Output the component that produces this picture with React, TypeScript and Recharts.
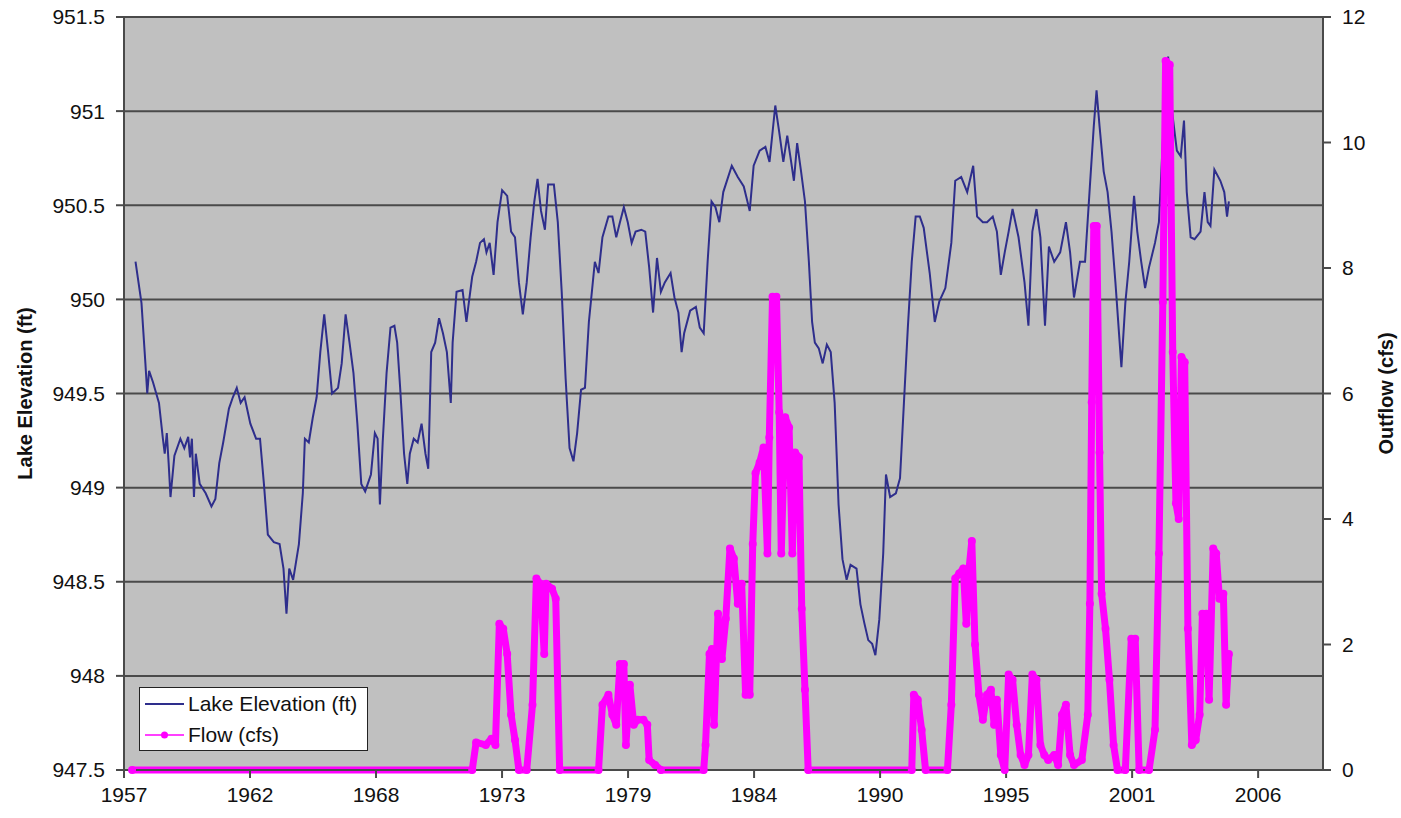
import { CartesianGrid, Legend, Line, LineChart, XAxis, YAxis } from "recharts";

// readings: [decimal year, value]
const LAKE_ELEVATION: [number, number][] = [
	[1958.0, 950.2], [1958.26, 949.98], [1958.43, 949.66], [1958.51, 949.5], [1958.59, 949.62], [1958.76, 949.56],
	[1959.02, 949.45], [1959.19, 949.26], [1959.27, 949.18], [1959.36, 949.29], [1959.44, 949.13], [1959.52, 948.95],
	[1959.69, 949.17], [1959.95, 949.26], [1960.12, 949.21], [1960.29, 949.27], [1960.37, 949.16], [1960.45, 949.26],
	[1960.54, 948.95], [1960.62, 949.18], [1960.79, 949.02], [1961.05, 948.97], [1961.3, 948.9], [1961.47, 948.94],
	[1961.64, 949.13], [1961.81, 949.24], [1962.06, 949.42], [1962.23, 949.48], [1962.4, 949.53], [1962.57, 949.45],
	[1962.74, 949.48], [1962.99, 949.34], [1963.24, 949.26], [1963.41, 949.26], [1963.58, 949.02], [1963.75, 948.75],
	[1964.01, 948.71], [1964.26, 948.7], [1964.43, 948.57], [1964.56, 948.33], [1964.68, 948.57], [1964.85, 948.51],
	[1965.1, 948.7], [1965.27, 948.97], [1965.36, 949.26], [1965.53, 949.24], [1965.7, 949.37], [1965.87, 949.48],
	[1966.03, 949.72], [1966.2, 949.92], [1966.37, 949.72], [1966.54, 949.5], [1966.8, 949.53], [1966.96, 949.66],
	[1967.13, 949.92], [1967.3, 949.77], [1967.47, 949.61], [1967.64, 949.34], [1967.81, 949.02], [1967.98, 948.98],
	[1968.23, 949.07], [1968.4, 949.29], [1968.52, 949.26], [1968.62, 948.91], [1968.74, 949.24], [1968.91, 949.61],
	[1969.08, 949.85], [1969.25, 949.86], [1969.37, 949.77], [1969.5, 949.53], [1969.67, 949.18], [1969.81, 949.02],
	[1969.92, 949.18], [1970.09, 949.26], [1970.26, 949.24], [1970.43, 949.34], [1970.6, 949.18], [1970.72, 949.1],
	[1970.85, 949.72], [1971.02, 949.77], [1971.19, 949.9], [1971.36, 949.82], [1971.53, 949.72], [1971.7, 949.45],
	[1971.78, 949.77], [1971.95, 950.04], [1972.21, 950.05], [1972.38, 949.88], [1972.46, 949.96], [1972.63, 950.12],
	[1972.8, 950.2], [1972.97, 950.3], [1973.14, 950.32], [1973.25, 950.25], [1973.39, 950.3], [1973.56, 950.13],
	[1973.73, 950.41], [1973.93, 950.58], [1974.15, 950.55], [1974.32, 950.36], [1974.49, 950.33], [1974.66, 950.09],
	[1974.83, 949.92], [1975.0, 950.09], [1975.17, 950.33], [1975.33, 950.52], [1975.47, 950.64], [1975.62, 950.47],
	[1975.79, 950.37], [1975.93, 950.61], [1976.18, 950.61], [1976.35, 950.41], [1976.52, 950.04], [1976.69, 949.58],
	[1976.86, 949.21], [1977.03, 949.14], [1977.19, 949.29], [1977.36, 949.52], [1977.53, 949.53], [1977.7, 949.88],
	[1977.96, 950.2], [1978.12, 950.14], [1978.29, 950.33], [1978.55, 950.44], [1978.72, 950.44], [1978.89, 950.33],
	[1979.05, 950.41], [1979.22, 950.49], [1979.39, 950.41], [1979.56, 950.3], [1979.73, 950.36], [1979.98, 950.37],
	[1980.15, 950.36], [1980.32, 950.17], [1980.49, 949.93], [1980.66, 950.22], [1980.83, 950.04], [1981.0, 950.09],
	[1981.25, 950.14], [1981.42, 950.01], [1981.59, 949.93], [1981.73, 949.72], [1981.84, 949.82], [1982.1, 949.94],
	[1982.35, 949.96], [1982.52, 949.85], [1982.69, 949.82], [1982.86, 950.2], [1983.03, 950.52], [1983.2, 950.49],
	[1983.37, 950.41], [1983.54, 950.57], [1983.91, 950.71], [1984.17, 950.65], [1984.43, 950.6], [1984.69, 950.47],
	[1984.86, 950.71], [1985.12, 950.79], [1985.37, 950.81], [1985.55, 950.73], [1985.8, 951.03], [1985.97, 950.89],
	[1986.15, 950.73], [1986.32, 950.87], [1986.49, 950.73], [1986.61, 950.63], [1986.75, 950.83], [1986.92, 950.68],
	[1987.09, 950.52], [1987.26, 950.2], [1987.4, 949.88], [1987.52, 949.77], [1987.69, 949.74], [1987.86, 949.66],
	[1988.04, 949.76], [1988.21, 949.72], [1988.38, 949.45], [1988.55, 948.91], [1988.72, 948.62], [1988.9, 948.51],
	[1989.07, 948.59], [1989.33, 948.57], [1989.5, 948.38], [1989.67, 948.28], [1989.84, 948.19], [1990.01, 948.17],
	[1990.15, 948.11], [1990.32, 948.3], [1990.49, 948.65], [1990.61, 949.07], [1990.79, 948.95], [1991.04, 948.97],
	[1991.22, 949.05], [1991.39, 949.45], [1991.56, 949.85], [1991.73, 950.2], [1991.9, 950.44], [1992.08, 950.44],
	[1992.25, 950.38], [1992.51, 950.14], [1992.73, 949.88], [1992.93, 949.99], [1993.19, 950.06], [1993.45, 950.3],
	[1993.62, 950.63], [1993.88, 950.65], [1994.14, 950.57], [1994.4, 950.71], [1994.57, 950.44], [1994.82, 950.41],
	[1995.0, 950.41], [1995.25, 950.44], [1995.43, 950.36], [1995.6, 950.13], [1995.77, 950.25], [1995.94, 950.36],
	[1996.11, 950.48], [1996.37, 950.33], [1996.63, 950.09], [1996.8, 949.86], [1996.97, 950.36], [1997.15, 950.48],
	[1997.32, 950.33], [1997.52, 949.86], [1997.69, 950.28], [1997.92, 950.2], [1998.18, 950.25], [1998.43, 950.41],
	[1998.61, 950.25], [1998.78, 950.01], [1999.04, 950.2], [1999.26, 950.2], [1999.47, 950.6], [1999.64, 950.92],
	[1999.76, 951.11], [1999.89, 950.92], [2000.07, 950.68], [2000.24, 950.57], [2000.41, 950.36], [2000.58, 950.09],
	[2000.84, 949.64], [2001.01, 949.98], [2001.18, 950.2], [2001.39, 950.55], [2001.53, 950.36], [2001.7, 950.2],
	[2001.87, 950.06], [2002.04, 950.17], [2002.3, 950.3], [2002.47, 950.41], [2002.64, 950.84], [2002.87, 951.29],
	[2003.04, 951.0], [2003.25, 950.79], [2003.42, 950.76], [2003.56, 950.95], [2003.68, 950.57], [2003.85, 950.33],
	[2004.02, 950.32], [2004.28, 950.36], [2004.45, 950.57], [2004.59, 950.41], [2004.71, 950.39], [2004.88, 950.69],
	[2005.14, 950.63], [2005.31, 950.57], [2005.43, 950.44], [2005.51, 950.52],
];

const FLOW: [number, number][] = [
	[1957.85, 0], [1972.63, 0], [1972.8, 0.44], [1973.22, 0.4], [1973.47, 0.5], [1973.64, 0.4], [1973.81, 2.33],
	[1973.98, 2.25], [1974.15, 1.85], [1974.32, 0.88], [1974.49, 0.48], [1974.66, 0], [1975.0, 0], [1975.25, 1.04],
	[1975.42, 3.05], [1975.59, 2.97], [1975.76, 1.85], [1975.84, 2.97], [1976.1, 2.89], [1976.26, 2.73], [1976.43, 0],
	[1978.12, 0], [1978.29, 1.04], [1978.55, 1.2], [1978.72, 0.88], [1978.89, 0.72], [1979.05, 1.69], [1979.22, 1.69],
	[1979.31, 0.4], [1979.48, 1.36], [1979.65, 0.72], [1979.82, 0.8], [1980.07, 0.8], [1980.24, 0.72], [1980.32, 0.16],
	[1980.58, 0.08], [1980.83, 0], [1982.69, 0], [1982.77, 0.4], [1982.94, 1.85], [1983.05, 1.93], [1983.14, 0.72],
	[1983.31, 2.49], [1983.48, 1.77], [1983.65, 2.41], [1983.83, 3.53], [1984.0, 3.37], [1984.17, 2.65], [1984.34, 2.97],
	[1984.51, 1.2], [1984.69, 1.2], [1984.82, 3.6], [1984.94, 4.73], [1985.12, 4.9], [1985.29, 5.14], [1985.46, 3.45],
	[1985.54, 5.3], [1985.68, 7.54], [1985.85, 7.54], [1985.97, 5.7], [1986.06, 3.45], [1986.23, 5.62], [1986.4, 5.46],
	[1986.54, 3.45], [1986.66, 5.06], [1986.83, 4.98], [1986.95, 2.57], [1987.09, 1.28], [1987.23, 0], [1991.73, 0],
	[1991.82, 1.2], [1991.99, 1.12], [1992.16, 0.64], [1992.33, 0], [1993.28, 0], [1993.45, 1.04], [1993.62, 3.05],
	[1993.79, 3.13], [1993.97, 3.21], [1994.1, 2.33], [1994.22, 3.21], [1994.34, 3.65], [1994.48, 2.0], [1994.65, 1.2],
	[1994.82, 0.8], [1995.0, 1.2], [1995.17, 1.28], [1995.31, 0.72], [1995.43, 1.12], [1995.6, 0.24], [1995.77, 0],
	[1995.94, 1.52], [1996.11, 1.44], [1996.29, 0.72], [1996.46, 0.24], [1996.63, 0.08], [1996.8, 0.24], [1996.97, 1.52],
	[1997.15, 1.44], [1997.32, 0.4], [1997.49, 0.24], [1997.66, 0.16], [1997.92, 0.24], [1998.09, 0.08], [1998.26, 0.88],
	[1998.43, 1.04], [1998.61, 0.24], [1998.78, 0.08], [1999.12, 0.16], [1999.38, 0.88], [1999.47, 2.65], [1999.55, 5.86],
	[1999.64, 8.67], [1999.77, 8.67], [1999.89, 5.06], [1999.98, 2.81], [2000.15, 2.25], [2000.32, 1.44], [2000.5, 0.4],
	[2000.67, 0], [2001.01, 0], [2001.27, 2.09], [2001.44, 2.09], [2001.61, 0], [2002.04, 0], [2002.3, 0.64],
	[2002.47, 3.45], [2002.64, 7.46], [2002.76, 11.3], [2002.94, 11.24], [2003.07, 6.66], [2003.21, 4.25], [2003.33, 4.0],
	[2003.45, 6.58], [2003.59, 6.5], [2003.73, 2.25], [2003.9, 0.4], [2004.07, 0.48], [2004.24, 0.88], [2004.36, 2.49],
	[2004.53, 2.49], [2004.65, 1.12], [2004.83, 3.53], [2004.96, 3.45], [2005.1, 2.73], [2005.27, 2.81], [2005.39, 1.04],
	[2005.51, 1.85],
];

const X_TICK_LABELS = ["1957", "1962", "1968", "1973", "1979", "1984", "1990", "1995", "2001", "2006"];
const ELEVATION_TICKS = [947.5, 948, 948.5, 949, 949.5, 950, 950.5, 951, 951.5];
const FLOW_TICKS = [0, 2, 4, 6, 8, 10, 12];

// excel date axis: starts mid-1957, one major unit every 2000 days
const X_START = 1957.5;
const X_STEP = 2000 / 365.25;
const X_END = 2009.6;
const X_TICKS = X_TICK_LABELS.map((_, i) => X_START + i * X_STEP);

const elevationData = LAKE_ELEVATION.map(([t, v]) => ({ t, v }));
const flowData = FLOW.map(([t, v]) => ({ t, v }));

const FONT = '"Liberation Sans", Arial, sans-serif';
const NAVY = "#2e2e8c";
const MAGENTA = "#ff00ff";
const AXIS = "#4a4a4a";

function AxisTitle({ viewBox, text, dx, fallback }: any) {
	const x = viewBox && typeof viewBox.x === "number" ? viewBox.x + dx : fallback.x;
	const y =
		viewBox && typeof viewBox.y === "number" ? viewBox.y + viewBox.height / 2 : fallback.y;
	return (
		<text
			x={x}
			y={y}
			transform={`rotate(-90 ${x} ${y})`}
			textAnchor="middle"
			dominantBaseline="central"
			fontFamily={FONT}
			fontSize={20}
			fontWeight="bold"
			fill="#111"
		>
			{text}
		</text>
	);
}

function LegendBox() {
	return (
		<div
			style={{
				boxSizing: "border-box",
				width: 229,
				height: 64,
				background: "#fff",
				border: "1px solid #222",
				paddingLeft: 5,
				fontFamily: FONT,
				fontSize: 21,
				color: "#111",
			}}
		>
			<div style={{ display: "flex", alignItems: "center", height: 31 }}>
				<svg width={39} height={10} style={{ marginRight: 4 }}>
					<line x1={0} y1={5} x2={39} y2={5} stroke={NAVY} strokeWidth={2} />
				</svg>
				<span>Lake Elevation (ft)</span>
			</div>
			<div style={{ display: "flex", alignItems: "center", height: 31 }}>
				<svg width={39} height={10} style={{ marginRight: 4 }}>
					<line x1={0} y1={5} x2={39} y2={5} stroke={MAGENTA} strokeWidth={1.5} />
					<circle cx={19.5} cy={5} r={3.5} fill={MAGENTA} />
				</svg>
				<span>Flow (cfs)</span>
			</div>
		</div>
	);
}

export default function App() {
	return (
		<div
			style={{
				position: "absolute",
				left: 0,
				top: 0,
				width: 1401,
				height: 818,
				background: "#fff",
				fontFamily: FONT,
			}}
		>
			<LineChart width={1401} height={818} margin={{ top: 17, right: 0, bottom: 0, left: 0 }}>
				<CartesianGrid
					yAxisId="elev"
					vertical={false}
					fill="#c0c0c0"
					stroke={AXIS}
					strokeWidth={2}
				/>
				<XAxis
					dataKey="t"
					type="number"
					domain={[X_START, X_END]}
					ticks={X_TICKS}
					interval={0}
					allowDataOverflow
					tickFormatter={(_v: number, i: number) => X_TICK_LABELS[i]}
					height={48}
					tickSize={8}
					tickMargin={9}
					stroke={AXIS}
					strokeWidth={2}
					tick={{ fill: "#111", fontSize: 21, fontFamily: FONT }}
				/>
				<YAxis
					yAxisId="elev"
					domain={[947.5, 951.5]}
					ticks={ELEVATION_TICKS}
					interval={0}
					width={124}
					tickSize={8}
					tickMargin={11}
					stroke={AXIS}
					strokeWidth={2}
					tick={{ fill: "#111", fontSize: 21, fontFamily: FONT }}
					label={{
						content: (p: any) => (
							<AxisTitle
								viewBox={p.viewBox}
								text="Lake Elevation (ft)"
								dx={25}
								fallback={{ x: 25, y: 393 }}
							/>
						),
					}}
				/>
				<YAxis
					yAxisId="flow"
					orientation="right"
					domain={[0, 12]}
					ticks={FLOW_TICKS}
					interval={0}
					width={78}
					tickSize={8}
					tickMargin={11}
					stroke={AXIS}
					strokeWidth={2}
					tick={{ fill: "#111", fontSize: 21, fontFamily: FONT }}
					label={{
						content: (p: any) => (
							<AxisTitle
								viewBox={p.viewBox}
								text="Outflow (cfs)"
								dx={63}
								fallback={{ x: 1386, y: 393 }}
							/>
						),
					}}
				/>
				<Legend
					layout="vertical"
					align="center"
					verticalAlign="middle"
					wrapperStyle={{ left: 139, top: 687, width: 229, height: 64 }}
					content={() => <LegendBox />}
				/>
				<Line
					yAxisId="elev"
					data={elevationData}
					dataKey="v"
					name="Lake Elevation (ft)"
					type="linear"
					stroke={NAVY}
					strokeWidth={2}
					dot={false}
					isAnimationActive={false}
				/>
				<Line
					yAxisId="flow"
					data={flowData}
					dataKey="v"
					name="Flow (cfs)"
					type="linear"
					stroke={MAGENTA}
					strokeWidth={7}
					strokeLinejoin="round"
					dot={{ r: 4, fill: MAGENTA, stroke: "none" }}
					isAnimationActive={false}
				/>
			</LineChart>
		</div>
	);
}
